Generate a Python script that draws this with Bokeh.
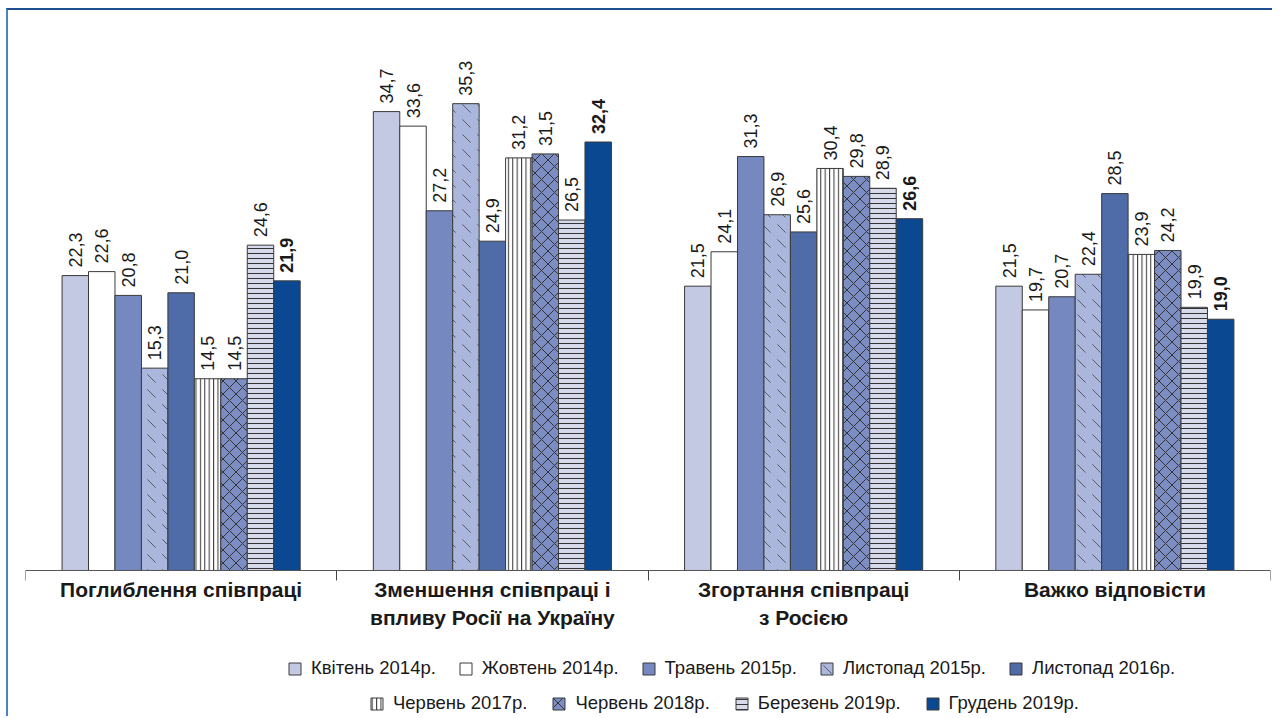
import math
from bokeh.plotting import figure
from bokeh.models import ColumnDataSource, FixedTicker, Legend, LegendItem, Range1d
from bokeh.core.properties import value
from bokeh.transform import dodge
from bokeh.embed import file_html
from bokeh.resources import INLINE

# ---------------- data ----------------
categories = [
    "Поглиблення співпраці",
    "Зменшення співпраці і\nвпливу Росії на Україну",
    "Згортання співпраці\nз Росією",
    "Важко відповісти",
]
series = [
    "Квітень 2014р.", "Жовтень 2014р.", "Травень 2015р.", "Листопад 2015р.",
    "Листопад 2016р.", "Червень 2017р.", "Червень 2018р.", "Березень 2019р.",
    "Грудень 2019р.",
]
apr_2014 = [22.3, 34.7, 21.5, 21.5]
oct_2014 = [22.6, 33.6, 24.1, 19.7]
may_2015 = [20.8, 27.2, 31.3, 20.7]
nov_2015 = [15.3, 35.3, 26.9, 22.4]
nov_2016 = [21.0, 24.9, 25.6, 28.5]
jun_2017 = [14.5, 31.2, 30.4, 23.9]
jun_2018 = [14.5, 31.5, 29.8, 24.2]
mar_2019 = [24.6, 26.5, 28.9, 19.9]
dec_2019 = [21.9, 32.4, 26.6, 19.0]
values = [apr_2014, oct_2014, may_2015, nov_2015, nov_2016,
          jun_2017, jun_2018, mar_2019, dec_2019]

# ---------------- styles ----------------
fills = ["#c3c9e3", "#ffffff", "#7589c0", "#aab6db", "#4f6ba8",
         "#ffffff", "#7b8dc3", "#d6daeb", "#0b4892"]
hatches = [None, None, None, "left_diagonal_dash", None,
           "vertical_line", "diagonal_cross", "horizontal_line", None]
hatch_scales = [12, 12, 12, 15, 12, 4.4, 13, 5, 12]
hatch_weights = [1, 1, 1, 0.8, 1, 1, 1, 1, 1]
hatch_colors = ["#333333", "#333333", "#333333", "#444444", "#333333",
                "#333333", "#333333", "#333333", "#333333"]
bold = [False] * 8 + [True]

bar_w = 0.085
x_center = [i + 0.5 for i in range(len(categories))]

p = figure(
    frame_width=1245, frame_height=675,
    x_range=Range1d(0, 4), y_range=Range1d(-11.04, 40),
    output_backend="svg", toolbar_location=None,
    min_border_left=17, min_border_right=2, min_border_top=31, min_border_bottom=0,
)
p.styles = {"border-top": "2px solid #1d4f91", "border-left": "2px solid #4a82c2",
            "margin-left": "6px", "margin-top": "8px"}
p.outline_line_color = None
p.xgrid.visible = False
p.ygrid.visible = False
p.yaxis.visible = False
p.background_fill_color = "white"
p.border_fill_color = "white"

renderers = []
for j, (name, vals) in enumerate(zip(series, values)):
    src = ColumnDataSource(dict(
        x=x_center, top=vals,
        label=[f"{v:.1f}".replace(".", ",") for v in vals],
    ))
    off = (j - (len(series) - 1) / 2) * bar_w
    kw = dict(fill_color=fills[j], line_color="#3a3a3a", line_width=1)
    if hatches[j]:
        kw.update(hatch_pattern=hatches[j], hatch_color=hatch_colors[j],
                  hatch_scale=hatch_scales[j], hatch_weight=hatch_weights[j])
    r = p.vbar(x=dodge("x", off, range=p.x_range), top="top", bottom=0,
               width=bar_w, source=src, **kw)
    renderers.append(r)
    p.text(x=dodge("x", off, range=p.x_range), y="top", text="label", source=src,
           angle=math.pi / 2, text_align="left", text_baseline="middle",
           y_offset=-8, text_font=value("Liberation Sans"),
           text_font_size="18px", text_color="#1a1a1a",
           text_font_style="bold" if bold[j] else "normal")

ax = p.xaxis[0]
ax.fixed_location = 0
ax.ticker = FixedTicker(ticks=x_center, minor_ticks=[0, 1, 2, 3, 4])
ax.major_label_overrides = {x: c for x, c in zip(x_center, categories)}
ax.major_tick_line_color = None
ax.major_tick_out = 0
ax.minor_tick_out = 10
ax.minor_tick_in = 0
ax.minor_tick_line_color = "#444444"
ax.axis_line_color = "#555555"
ax.major_label_standoff = -2
ax.major_label_text_font = "Liberation Sans"
ax.major_label_text_font_style = "bold"
ax.major_label_text_font_size = "21px"
ax.major_label_text_line_height = 1.18
ax.major_label_text_color = "#1a1a1a"

def make_legend(idx, loc, spacing):
    lg = Legend(
        items=[LegendItem(label=series[k], renderers=[renderers[k]]) for k in idx],
        orientation="horizontal", location=loc, spacing=spacing, label_standoff=9,
        glyph_width=15, glyph_height=15, label_height=20,
        label_text_font="Liberation Sans", label_text_font_size="18.5px",
        label_text_color="#1a1a1a", padding=0, margin=0,
        border_line_color=None, background_fill_alpha=0,
    )
    p.add_layout(lg)

make_legend([0, 1, 2, 3, 4], (262, 37), 22)
make_legend([5, 6, 7, 8], (344, 2), 24)

open("out.html", "w").write(file_html(p, INLINE))
